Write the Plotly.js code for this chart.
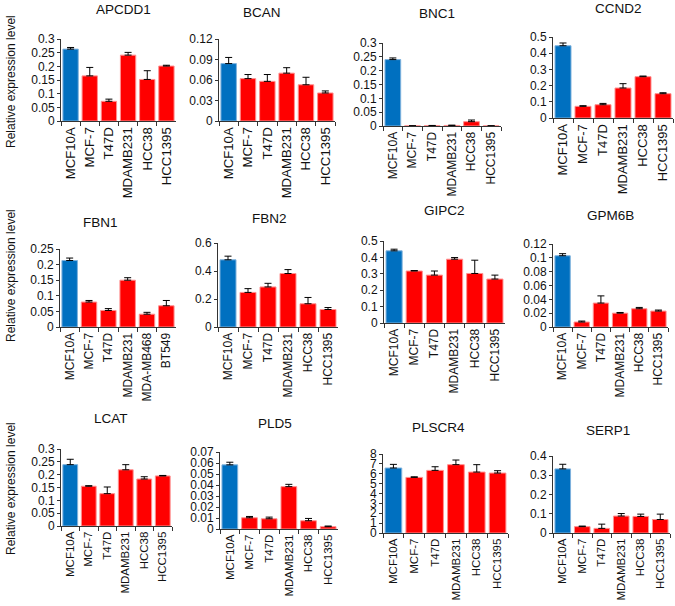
<!DOCTYPE html>
<html>
<head>
<meta charset="utf-8">
<script src="https://cdn.plot.ly/plotly-3.0.1.min.js"></script>
<style>html,body{margin:0;padding:0;background:#fff;}#chart{width:675px;height:606px;}</style>
</head>
<body>
<div id="chart"></div>
<script>
// ---- data ----
const cellLines = ["MCF10A", "MCF-7", "T47D", "MDAMB231", "HCC38", "HCC1395"];
const fbn1Lines = ["MCF10A", "MCF-7", "T47D", "MDAMB231", "MDA-MB468", "BT549"];
const genes = ["APCDD1", "BCAN", "BNC1", "CCND2", "FBN1", "FBN2", "GIPC2", "GPM6B", "LCAT", "PLD5", "PLSCR4", "SERP1"];

const apcdd1Vals = [0.263, 0.165, 0.072, 0.241, 0.152, 0.201];
const apcdd1Err  = [0.006, 0.031, 0.008, 0.010, 0.032, 0.003];
const bcanVals   = [0.084, 0.062, 0.058, 0.070, 0.053, 0.041];
const bcanErr    = [0.009, 0.006, 0.010, 0.008, 0.011, 0.003];
const bnc1Vals   = [0.240, 0.0005, 0.001, 0.002, 0.0156, 0.0005];
const bnc1Err    = [0.006, 0.0003, 0.001, 0.001, 0.006, 0.0003];
const ccnd2Vals  = [0.446, 0.072, 0.082, 0.185, 0.255, 0.150];
const ccnd2Err   = [0.017, 0.004, 0.008, 0.027, 0.004, 0.006];
const fbn1Vals   = [0.213, 0.080, 0.053, 0.150, 0.041, 0.068];
const fbn1Err    = [0.008, 0.005, 0.006, 0.008, 0.006, 0.017];
const fbn2Vals   = [0.480, 0.247, 0.286, 0.382, 0.166, 0.125];
const fbn2Err    = [0.026, 0.027, 0.026, 0.028, 0.045, 0.014];
const gipc2Vals  = [0.440, 0.317, 0.292, 0.389, 0.302, 0.268];
const gipc2Err   = [0.010, 0.003, 0.025, 0.010, 0.081, 0.024];
const gpm6bVals  = [0.103, 0.0072, 0.0346, 0.020, 0.0264, 0.023];
const gpm6bErr   = [0.003, 0.0014, 0.0104, 0.001, 0.0019, 0.0015];
const lcatVals   = [0.239, 0.155, 0.126, 0.219, 0.183, 0.195];
const lcatErr    = [0.021, 0.002, 0.026, 0.020, 0.009, 0.002];
const pld5Vals   = [0.0583, 0.0102, 0.0093, 0.0385, 0.0075, 0.0021];
const pld5Err    = [0.0024, 0.0012, 0.0015, 0.0021, 0.0021, 0.0006];
const plscr4Vals = [6.58, 5.63, 6.34, 6.92, 6.17, 6.07];
const plscr4Err  = [0.37, 0.06, 0.37, 0.47, 0.75, 0.24];
const serp1Vals  = [0.333, 0.033, 0.024, 0.088, 0.086, 0.070];
const serp1Err   = [0.024, 0.003, 0.022, 0.013, 0.012, 0.028];

const yMax   = [0.3, 0.12, 0.3, 0.5, 0.25, 0.6, 0.5, 0.12, 0.3, 0.07, 8, 0.4];
const yDtick = [0.05, 0.03, 0.05, 0.1, 0.05, 0.2, 0.1, 0.02, 0.05, 0.01, 1, 0.1];

// ---- layout geometry (pixels) ----
const W = 675, H = 606;
const panels = [
  {x0: 61,  x1: 176, yt: 39,  yb: 121, tx: 123, ty: 10,  lf: 13.2},
  {x0: 219, x1: 335, yt: 39,  yb: 121, tx: 262, ty: 12,  lf: 13.2},
  {x0: 383, x1: 501, yt: 43,  yb: 126, tx: 437, ty: 14,  lf: 12},
  {x0: 553, x1: 673, yt: 37,  yb: 118, tx: 618, ty: 8,   lf: 13},
  {x0: 60,  x1: 176, yt: 249, yb: 327, tx: 100, ty: 222, lf: 12},
  {x0: 218, x1: 338, yt: 243, yb: 327, tx: 269, ty: 218, lf: 12},
  {x0: 384, x1: 505, yt: 241, yb: 323, tx: 445, ty: 211, lf: 12},
  {x0: 553, x1: 668, yt: 244, yb: 327, tx: 610, ty: 215, lf: 12},
  {x0: 61,  x1: 172, yt: 449, yb: 526, tx: 111, ty: 418, lf: 11.5},
  {x0: 220, x1: 338, yt: 452, yb: 529, tx: 275, ty: 423, lf: 11.5},
  {x0: 383, x1: 508, yt: 454, yb: 533, tx: 438, ty: 427, lf: 11.5},
  {x0: 553, x1: 670, yt: 456, yb: 533, tx: 608, ty: 430, lf: 11.5}
];

const vals = [apcdd1Vals, bcanVals, bnc1Vals, ccnd2Vals, fbn1Vals, fbn2Vals, gipc2Vals, gpm6bVals, lcatVals, pld5Vals, plscr4Vals, serp1Vals];
const errs = [apcdd1Err, bcanErr, bnc1Err, ccnd2Err, fbn1Err, fbn2Err, gipc2Err, gpm6bErr, lcatErr, pld5Err, plscr4Err, serp1Err];

const BLUE = "#0070C0", RED = "#FF0000";
const FONT = "Liberation Sans, Arial, sans-serif";
const traces = [];
const layout = {
  width: W, height: H,
  margin: {l: 0, r: 0, t: 0, b: 0},
  paper_bgcolor: "#fff", plot_bgcolor: "#fff",
  showlegend: false,
  font: {family: FONT, color: "#111"},
  annotations: []
};

panels.forEach((p, i) => {
  const n = i + 1;
  const xa = n === 1 ? "x" : "x" + n;
  const ya = n === 1 ? "y" : "y" + n;
  const cats = i === 4 ? fbn1Lines : cellLines;
  traces.push({
    type: "bar",
    x: cats, y: vals[i],
    xaxis: xa, yaxis: ya,
    marker: {
      color: cats.map((c, k) => k === 0 ? BLUE : RED),
      line: {color: cats.map((c, k) => k === 0 ? "#7fb2dd" : "#ff9090"), width: 1}
    },
    error_y: {type: "data", symmetric: false, array: errs[i], arrayminus: errs[i].map(() => 0),
              color: "#000", thickness: 1, width: 3.5},
    hoverinfo: "x+y"
  });
  layout["xaxis" + (n === 1 ? "" : n)] = {
    domain: [p.x0 / W, p.x1 / W], anchor: ya,
    type: "category", range: [-0.5, 5.5],
    showline: true, linecolor: "#333", linewidth: 1,
    ticks: "outside", tickson: "boundaries", ticklen: 4, tickcolor: "#333",
    tickangle: -90, tickfont: {family: FONT, size: p.lf, color: "#111"},
    showgrid: false, zeroline: false, fixedrange: true
  };
  layout["yaxis" + (n === 1 ? "" : n)] = {
    domain: [1 - p.yb / H, 1 - p.yt / H], anchor: xa,
    range: [0, yMax[i]], dtick: yDtick[i], tick0: 0,
    showline: true, linecolor: "#333", linewidth: 1,
    ticks: "outside", ticklen: 3, tickcolor: "#333",
    tickfont: {family: FONT, size: 12, color: "#111"},
    showgrid: false, zeroline: false, fixedrange: true
  };
  layout.annotations.push({
    text: genes[i], xref: "paper", yref: "paper",
    x: p.tx / W, y: 1 - p.ty / H, xanchor: "center", yanchor: "middle",
    showarrow: false, font: {family: FONT, size: 13.5, color: "#111"}
  });
});

[82, 276, 489].forEach(cy => {
  layout.annotations.push({
    text: "Relative expression level", xref: "paper", yref: "paper",
    x: 11 / W, y: 1 - cy / H, xanchor: "center", yanchor: "middle",
    textangle: -90, showarrow: false, font: {family: FONT, size: 12, color: "#111"}
  });
});

Plotly.newPlot("chart", traces, layout, {displayModeBar: false, staticPlot: true});
</script>
</body>
</html>
